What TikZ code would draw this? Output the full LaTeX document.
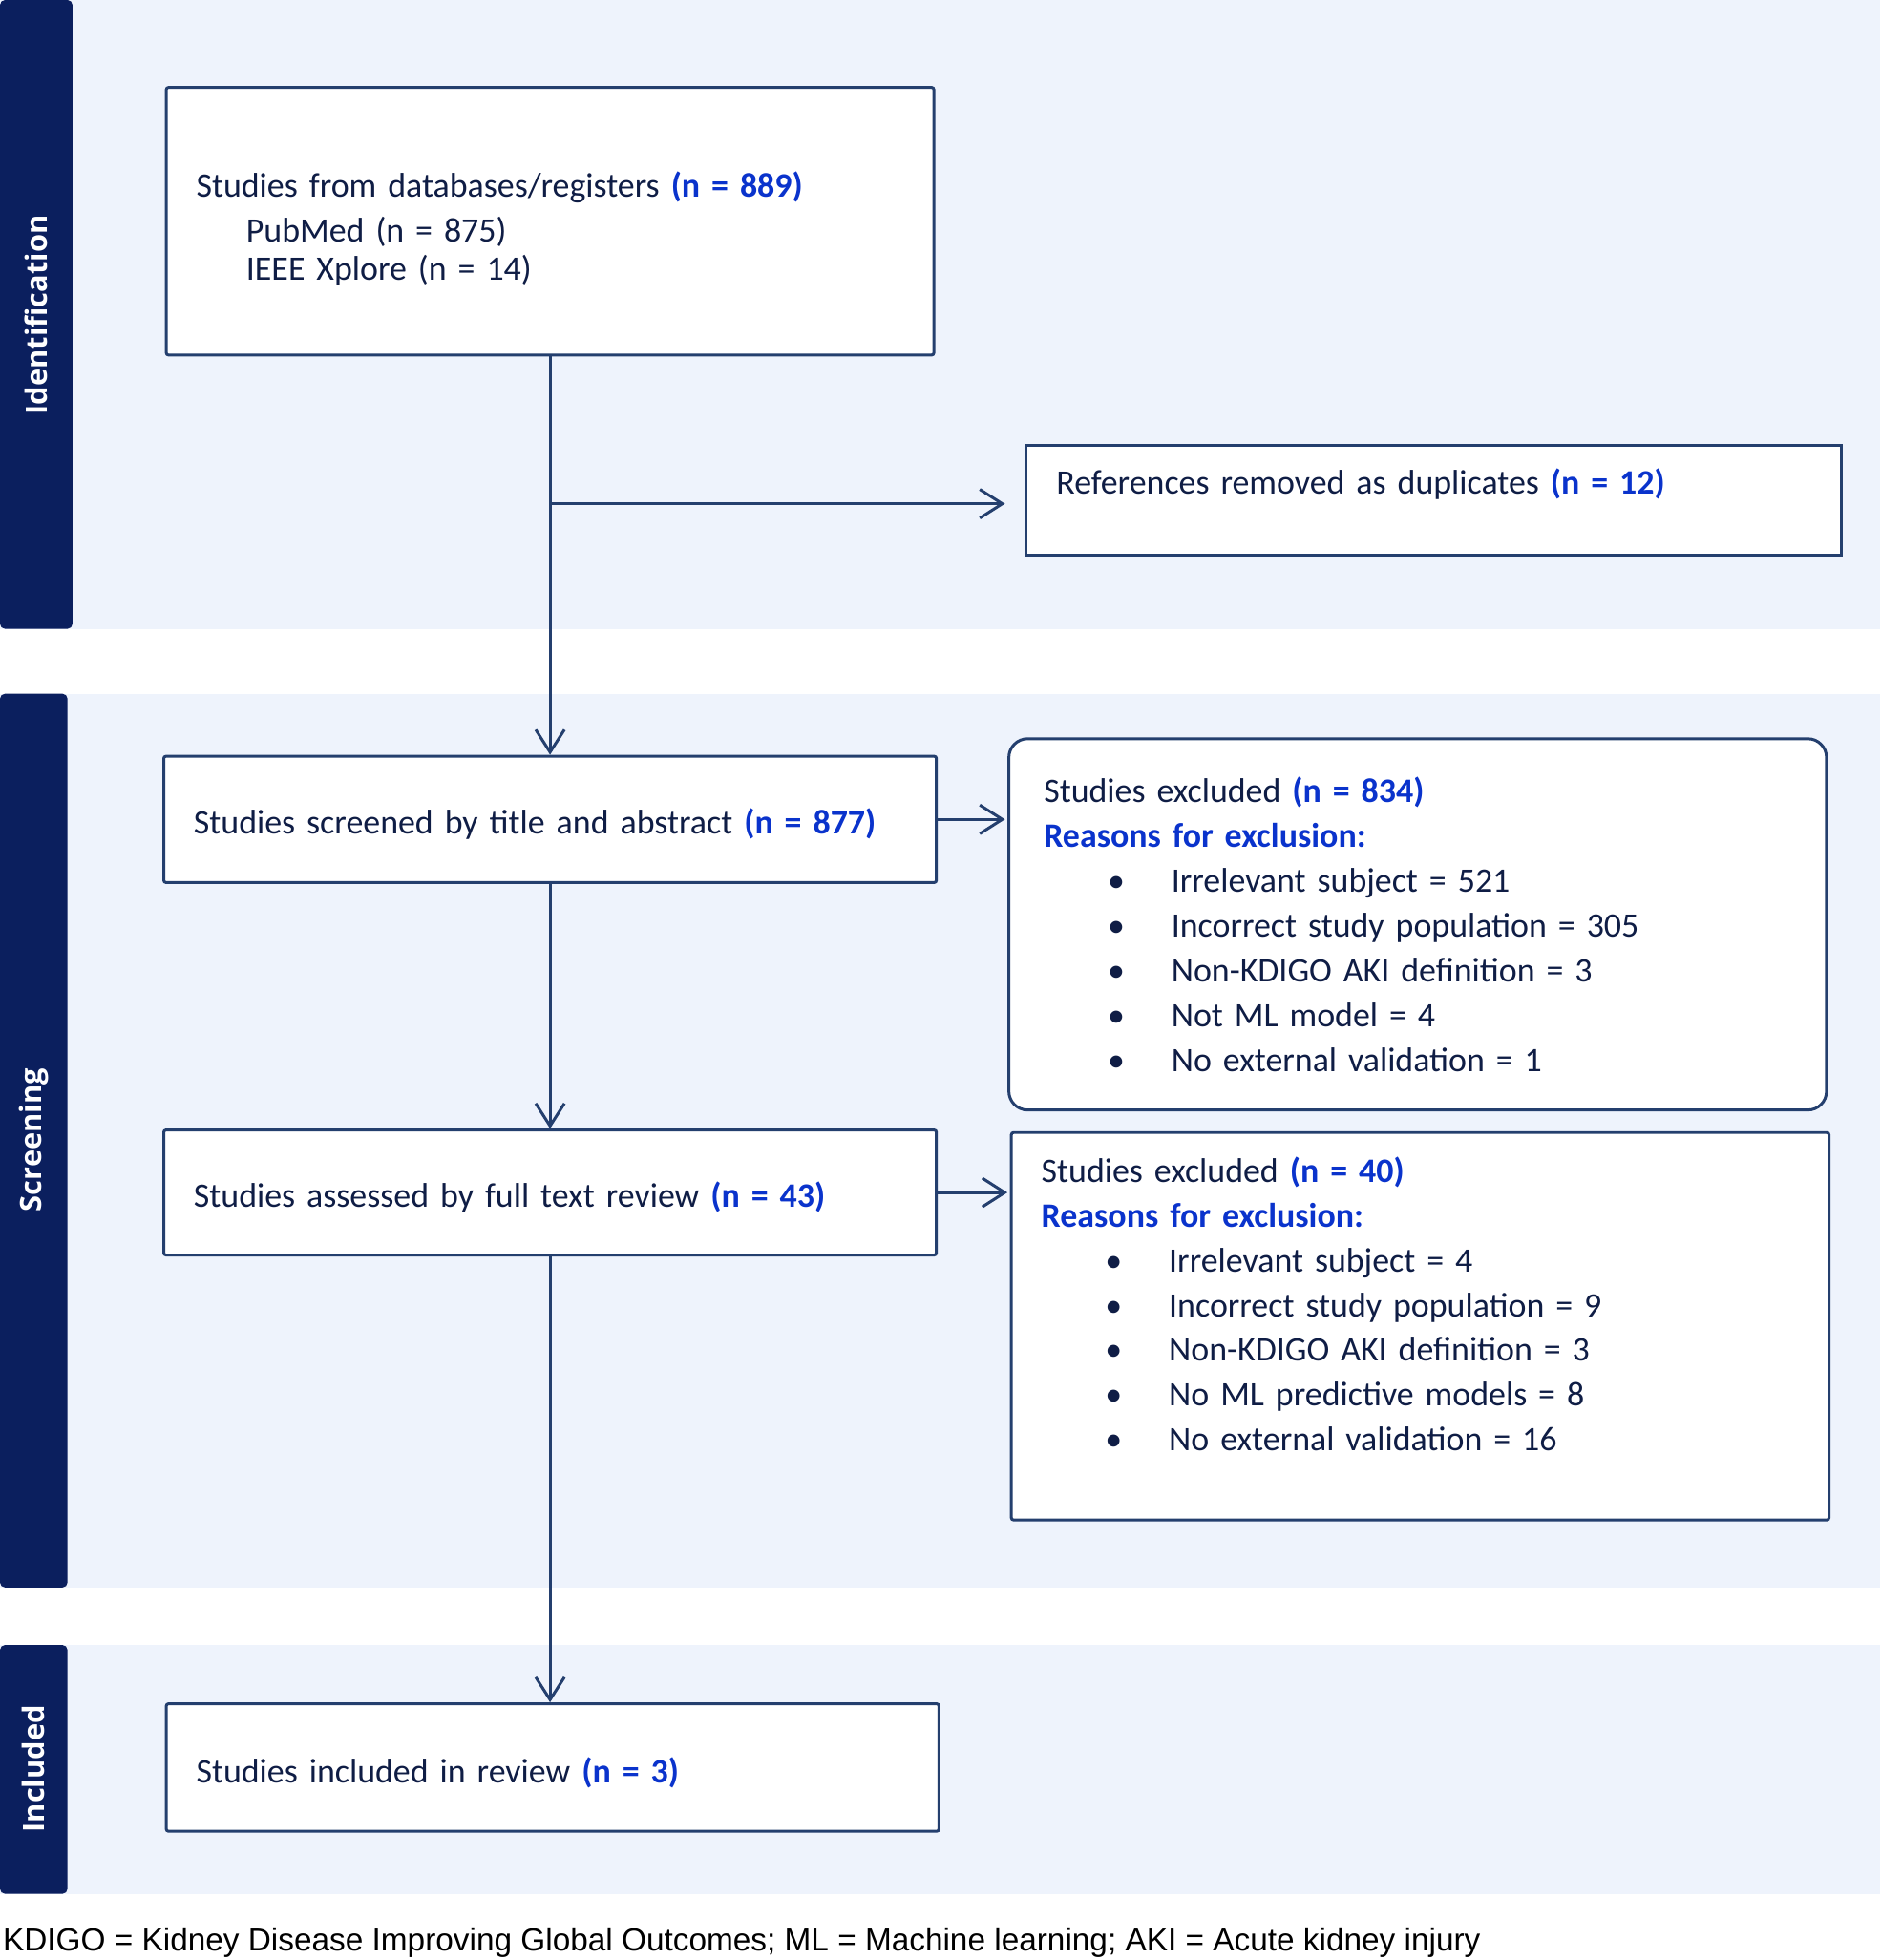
\documentclass[tikz,border=0pt]{standalone}
\usepackage{fontspec}
\setmainfont{Carlito}
\newfontfamily\footfont{Liberation Sans}
\newfontfamily\phasefont{Open Sans}
\usetikzlibrary{arrows.meta, positioning}
\definecolor{phasenavy}{HTML}{0B1F5E}
\definecolor{bandbg}{HTML}{EEF3FC}
\definecolor{boxline}{HTML}{243F6E}
\definecolor{txtnavy}{HTML}{0F1D45}
\definecolor{countblue}{HTML}{0A33CC}
\newcommand{\cnt}[1]{{\bfseries\color{countblue}(n = #1)}}
\newcommand{\reason}[1]{\hspace*{10.2mm}\makebox[10.2mm][l]{\textbullet}#1}

\begin{document}
\begin{tikzpicture}[
  x=0.2mm, y=-0.2mm,
  every node/.style={font=\fontsize{15.6}{20.4}\selectfont, text=txtnavy},
  box/.style={rectangle, rounded corners=1pt, draw=boxline, line width=1.3pt, fill=white, inner xsep=4.8mm, inner ysep=0pt, align=left},
  rowbox/.style={box, execute at begin node=\rule{0pt}{16pt}},
  exclbox/.style={box, rounded corners=3mm},
  phase/.style={rotate=90, text=white, font=\phasefont\bfseries\fontsize{13.4}{16}\selectfont},
  flow/.style={-{Straight Barb[length=3.6mm, width=4.6mm]}, draw=boxline, line width=1.3pt},
]
\useasboundingbox (0,0) rectangle (1504,1568);

% Bands
\fill[bandbg] (0,0) rectangle (1504,503);
\fill[bandbg] (0,555) rectangle (1504,1270);
\fill[bandbg] (0,1316) rectangle (1504,1515);
\fill[phasenavy, rounded corners=0.8mm] (0,0) rectangle (58,503);
\fill[phasenavy, rounded corners=0.8mm] (0,555) rectangle (54,1270);
\fill[phasenavy, rounded corners=0.8mm] (0,1316) rectangle (54,1515);
\node[phase] (lid) at (29,252) {Identification};
\node[phase] (lscr) at (27,912) {Screening};
\node[phase] (linc) at (27,1415) {Included};

% Boxes
\node[box, text width=113.2mm, minimum height=42.8mm] (top) at (440,177) {\rule{0pt}{18pt}Studies from databases/registers \cnt{889}\\
\hspace*{8mm}PubMed (n = 875)\\[-3pt]
\hspace*{8mm}IEEE Xplore (n = 14)};
\node[box, rounded corners=0pt, text width=120.8mm, minimum height=17.6mm] (dup) at (1147,400) {References removed as duplicates \cnt{12}\\[-3pt] \mbox{}};
\node[rowbox, text width=114mm, minimum height=20.2mm] (screen) at (440,655.5) {Studies screened by title and abstract \cnt{877}};
\node[exclbox, inner xsep=5.6mm, text width=119.6mm, minimum height=59.4mm] (excl1) at (1134,739.5) {Studies excluded \cnt{834}\\
{\bfseries\color{countblue}Reasons for exclusion:}\\
\reason{Irrelevant subject = 521}\\
\reason{Incorrect study population = 305}\\
\reason{Non-KDIGO AKI definition = 3}\\
\reason{Not ML model = 4}\\
\reason{No external validation = 1}};
\node[rowbox, text width=114mm, minimum height=20mm] (assess) at (440,954) {Studies assessed by full text review \cnt{43}};
\node[box, text width=121.2mm, minimum height=62mm] (excl2) at (1136,1061) {Studies excluded \cnt{40}\\
{\bfseries\color{countblue}Reasons for exclusion:}\\
\reason{Irrelevant subject = 4}\\
\reason{Incorrect study population = 9}\\
\reason{Non-KDIGO AKI definition = 3}\\
\reason{No ML predictive models = 8}\\
\reason{No external validation = 16}\\ \mbox{}};
\node[rowbox, text width=114mm, minimum height=20.4mm] (incl) at (442,1414) {Studies included in review \cnt{3}};

% Arrows
\coordinate (split) at (440,403);
\draw[flow] (top.south) -- (screen.north);
\draw[flow] (split) -- ([xshift=-3.2mm]dup.west |- split);
\draw[flow] (screen.east) -- ([xshift=-0.4mm]excl1.west |- screen.east);
\draw[flow] (screen.south) -- (assess.north);
\draw[flow] (assess.east) -- ([xshift=-0.4mm]excl2.west |- assess.east);
\draw[flow] (assess.south) -- (assess.south |- incl.north);

\node[anchor=west, inner sep=0pt, text=black, font=\footfont\fontsize{14.5}{16}\selectfont] (foot) at (2,1554) {KDIGO = Kidney Disease Improving Global Outcomes; ML = Machine learning; AKI = Acute kidney injury};
\end{tikzpicture}
\end{document}
